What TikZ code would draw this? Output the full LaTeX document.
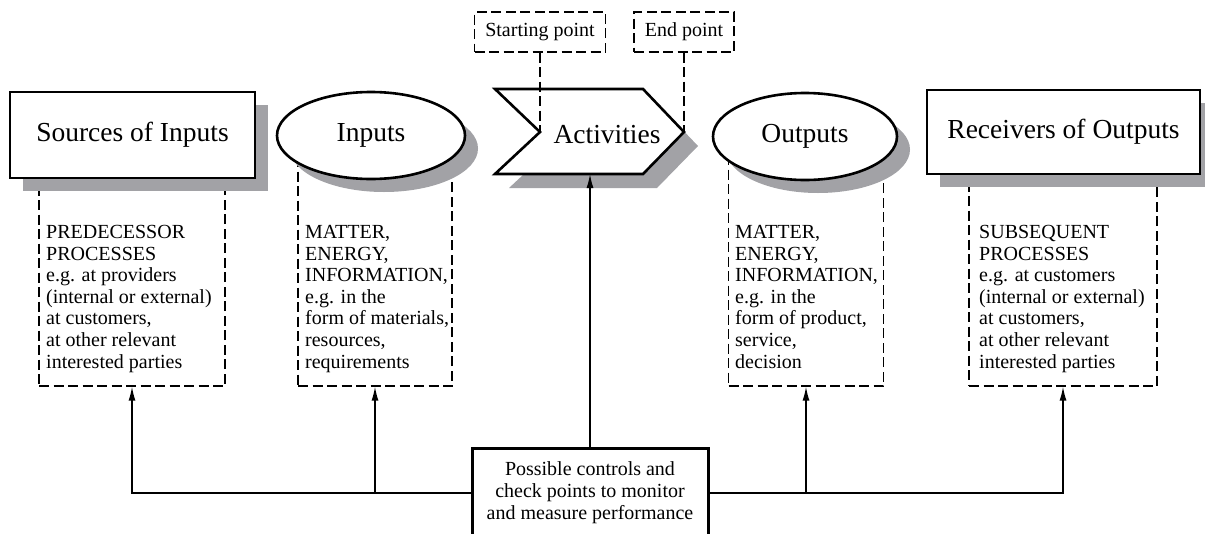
\documentclass[tikz,border=0pt]{standalone}
\usepackage{fontspec}
\setmainfont{Liberation Serif}
\usepackage{xcolor}
\usepackage{tikz}
\usetikzlibrary{arrows.meta,shadows,shapes.geometric}
\definecolor{shadowgray}{RGB}{162,162,166}

\begin{document}
\begin{tikzpicture}[x=1pt, y=-1pt,
  shade base/.style={draw, line width=2.6pt, fill=white},
  shade box/.style={shade base, general shadow={shadow xshift=13pt, shadow yshift=-13pt, fill=shadowgray}},
  headbox/.style={shade box, rectangle, inner sep=0pt, font=\fontsize{27.5}{30}\selectfont},
  headoval/.style={shade box, ellipse, inner sep=0pt, font=\fontsize{27.5}{30}\selectfont},
  chevron/.style={shade base, general shadow={shadow xshift=14pt, shadow yshift=-14pt, fill=shadowgray}},
  infobox/.style={draw, line width=1.2pt, dash pattern=on 10pt off 4.5pt, rectangle, inner sep=0pt},
  infotext/.style={align=left, anchor=north west, inner sep=0pt, font=\fontsize{20}{21.6}\selectfont},
  pointbox/.style={infobox, font=\fontsize{20}{22}\selectfont},
  link/.style={line width=1.2pt, dash pattern=on 10pt off 4.5pt},
  arr/.style={line width=1.4pt, -{Latex[length=14pt,width=7pt]}},
  ctrlbox/.style={draw, line width=3pt, fill=white, align=center, inner sep=0pt, font=\fontsize{20}{22}\selectfont}
]
  \clip (0,0) rectangle (1205,533);
  \node[infobox, minimum width=186pt, minimum height=226pt] (srcbox) at (132,273) {};
  \node[infobox, minimum width=154pt, minimum height=236pt] (inbox) at (375,268) {};
  \node[infobox, minimum width=155pt, minimum height=236pt] (outbox) at (806,268) {};
  \node[infobox, minimum width=188pt, minimum height=226pt] (recbox) at (1063,273) {};
  \node[infotext] (srctxt) at (46,225) {PREDECESSOR\\PROCESSES\\e.g. at providers\\(internal or external)\\at customers,\\at other relevant\\interested parties};
  \node[infotext] (intxt) at (305,225) {MATTER,\\ENERGY,\\INFORMATION,\\e.g. in the\\form of materials,\\resources,\\requirements};
  \node[infotext] (outtxt) at (735,225) {MATTER,\\ENERGY,\\INFORMATION,\\e.g. in the\\form of product,\\service,\\decision};
  \node[infotext] (rectxt) at (979,225) {SUBSEQUENT\\PROCESSES\\e.g. at customers\\(internal or external)\\at customers,\\at other relevant\\interested parties};
  \node[headbox, minimum width=245pt, minimum height=86pt] (src) at (132.5,135) {Sources of Inputs};
  \node[headoval, minimum width=188pt, minimum height=87pt] (in) at (371,135.5) {Inputs};
  \node[headoval, minimum width=184pt, minimum height=87pt] (out) at (805,136.5) {Outputs};
  \node[headbox, minimum width=273pt, minimum height=84pt] (rec) at (1063.5,132) {Receivers of Outputs};
  \coordinate (notch) at (540,132);
  \coordinate (tip) at (684,132);
  \coordinate (actbot) at (590,174);
  \draw[chevron] (495,89) -- (643,89) -- (tip) -- (643,174) -- (495,174) -- (notch) -- cycle;
  \node[font=\fontsize{27.5}{30}\selectfont] (act) at (607,135) {Activities};
  \node[pointbox, minimum width=131pt, minimum height=40pt] (start) at (540,32) {Starting point};
  \node[pointbox, minimum width=100pt, minimum height=40pt] (end) at (684,32) {End point};
  \draw[link] (start) -- (notch);
  \draw[link] (end) -- (tip);
  \node[ctrlbox, minimum width=236pt, minimum height=90pt] (ctrl) at (590,493) {Possible controls and\\check points to monitor\\and measure performance};
  \draw[arr] (ctrl) -- (actbot);
  \draw[arr] (ctrl.west) -| (srcbox.south);
  \draw[arr] (ctrl.west -| inbox.south) -- (inbox.south);
  \draw[arr] (ctrl.east) -| (recbox.south);
  \draw[arr] (ctrl.east -| outbox.south) -- (outbox.south);
\end{tikzpicture}
\end{document}
